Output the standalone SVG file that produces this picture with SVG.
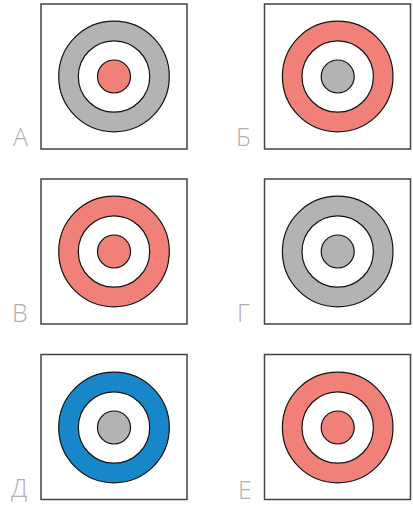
<svg xmlns="http://www.w3.org/2000/svg" width="413" height="507" viewBox="0 0 413 507">
<style>
.box{fill:#fff;stroke:#444;stroke-width:1.5}
.c{stroke:#111;stroke-width:1.2}
.g{fill:#b3b3b3}
.r{fill:#f08078}
.b{fill:#1787c9}
.w{fill:#fff}
.lbl{font-family:"Open Sans","Liberation Sans",sans-serif;font-weight:300;font-size:25px;fill:#b0b0b0}
</style>
<rect width="413" height="507" fill="#fff"/>
<g id="A">
<rect class="box" x="41" y="4" width="146" height="145"/>
<circle class="c g" cx="114" cy="76.5" r="55.3"/>
<circle class="c w" cx="114" cy="76.5" r="35.7"/>
<circle class="c r" cx="114" cy="76.5" r="16.5"/>
<text class="lbl" x="13" y="146">А</text>
</g>
<g id="B">
<rect class="box" x="264.5" y="4" width="146" height="145"/>
<circle class="c r" cx="337.7" cy="76.5" r="55.3"/>
<circle class="c w" cx="337.7" cy="76.5" r="35.7"/>
<circle class="c g" cx="337.7" cy="76.5" r="16.5"/>
<text class="lbl" x="236" y="146">Б</text>
</g>
<g id="V">
<rect class="box" x="41" y="179" width="146" height="145"/>
<circle class="c r" cx="114" cy="251.5" r="55.3"/>
<circle class="c w" cx="114" cy="251.5" r="35.7"/>
<circle class="c r" cx="114" cy="251.5" r="16.5"/>
<text class="lbl" x="12" y="322">В</text>
</g>
<g id="G">
<rect class="box" x="264.5" y="179" width="146" height="145"/>
<circle class="c g" cx="337.7" cy="251.5" r="55.3"/>
<circle class="c w" cx="337.7" cy="251.5" r="35.7"/>
<circle class="c g" cx="337.7" cy="251.5" r="16.5"/>
<text class="lbl" x="237" y="322">Г</text>
</g>
<g id="D">
<rect class="box" x="41" y="354.5" width="146" height="145"/>
<circle class="c b" cx="114" cy="427.5" r="55.3"/>
<circle class="c w" cx="114" cy="427.5" r="35.7"/>
<circle class="c g" cx="114" cy="427.5" r="16.5"/>
<text class="lbl" x="11" y="497">Д</text>
</g>
<g id="E">
<rect class="box" x="264.5" y="354.5" width="146" height="145"/>
<circle class="c r" cx="337.7" cy="427.5" r="55.3"/>
<circle class="c w" cx="337.7" cy="427.5" r="35.7"/>
<circle class="c r" cx="337.7" cy="427.5" r="16.5"/>
<text class="lbl" x="238" y="499">Е</text>
</g>
<g id="connectors"></g>
</svg>
